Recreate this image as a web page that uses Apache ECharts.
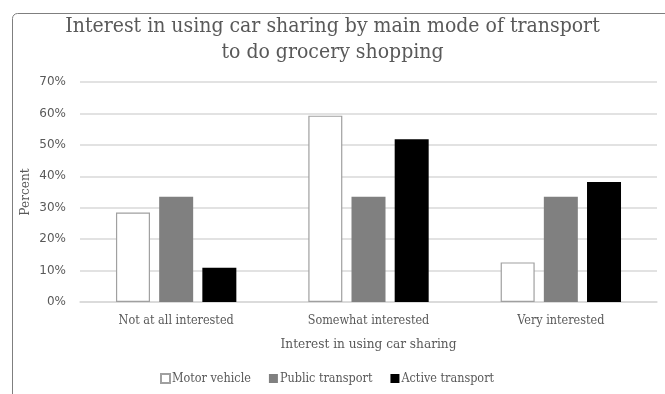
<!DOCTYPE html>
<html>
<head>
<meta charset="utf-8">
<script src="https://cdn.jsdelivr.net/npm/echarts@6/dist/echarts.min.js"></script>
<style>
  html, body { margin: 0; padding: 0; background: #fff; }
  #chart { width: 665px; height: 394px; }
</style>
</head>
<body>
<div id="chart"></div>
<script>
// Share of respondents (%) by interest level, per main grocery-shopping mode
const categories = ['Not at all interested', 'Somewhat interested', 'Very interested'];
const motorVehicle = [28.5, 59.3, 12.6];
const publicTransport = [33.5, 33.5, 33.5];
const activeTransport = [10.9, 51.8, 38.2];
const yTicks = [0, 10, 20, 30, 40, 50, 60, 70];

const FONT = '"DejaVu Serif Condensed", "DejaVu Serif", serif';
const TEXT = '#595959';

const chart = echarts.init(document.getElementById('chart'));
chart.setOption({
  animation: false,
  textStyle: { fontFamily: FONT },
  graphic: [{
    type: 'rect',
    shape: { x: 12.5, y: 13.5, width: 700, height: 420, r: 5 },
    style: { fill: 'none', stroke: '#7f7f7f', lineWidth: 1 },
    z: -1
  }],
  title: {
    text: 'Interest in using car sharing by main mode of transport\nto do grocery shopping',
    left: 'center',
    top: 9,
    textStyle: { fontFamily: FONT, fontSize: 21, fontWeight: 'normal', color: TEXT, lineHeight: 26 }
  },
  legend: {
    bottom: 4,
    left: 155,
    itemWidth: 9,
    itemHeight: 9,
    itemGap: 18,
    icon: 'rect',
    textStyle: { fontFamily: FONT, fontSize: 12.5, color: TEXT, padding: [0, 0, 0, -3] },
    data: ['Motor vehicle', 'Public transport', 'Active transport']
  },
  grid: { left: 80, right: 8, top: 82, bottom: 92, containLabel: false },
  xAxis: {
    type: 'category',
    data: categories,
    name: 'Interest in using car sharing',
    nameLocation: 'middle',
    nameGap: 35,
    nameTextStyle: { fontFamily: FONT, fontSize: 13.5, color: TEXT },
    axisLine: { lineStyle: { color: '#d9d9d9', width: 1.5 } },
    axisTick: { show: false },
    axisLabel: { fontFamily: FONT, fontSize: 12.5, color: TEXT, margin: 12 }
  },
  yAxis: {
    type: 'value',
    min: yTicks[0],
    max: yTicks[yTicks.length - 1],
    interval: 10,
    name: 'Percent',
    nameLocation: 'middle',
    nameGap: 48,
    nameMoveOverlap: false,
    nameRotate: 90,
    nameTextStyle: { fontFamily: FONT, fontSize: 13.5, color: TEXT },
    axisLine: { show: false },
    axisTick: { show: false },
    splitLine: { lineStyle: { color: '#d9d9d9', width: 1.5 } },
    axisLabel: { fontFamily: '"DejaVu Sans", sans-serif', fontSize: 12, color: TEXT, margin: 14, formatter: '{value}%' }
  },
  series: [
    {
      name: 'Motor vehicle',
      type: 'bar',
      data: motorVehicle,
      barWidth: 34,
      barGap: '27%',
      itemStyle: { color: '#ffffff', borderColor: '#a0a0a0', borderWidth: 1.2 }
    },
    {
      name: 'Public transport',
      type: 'bar',
      data: publicTransport,
      barWidth: 34,
      barGap: '27%',
      itemStyle: { color: '#808080' }
    },
    {
      name: 'Active transport',
      type: 'bar',
      data: activeTransport,
      barWidth: 34,
      barGap: '27%',
      itemStyle: { color: '#000000' }
    }
  ]
});
</script>
</body>
</html>
